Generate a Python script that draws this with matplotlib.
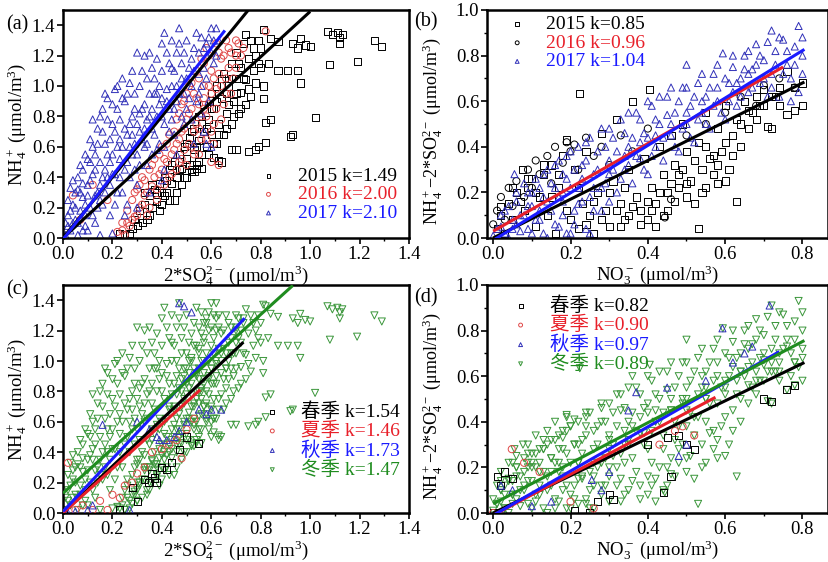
import numpy as np
import matplotlib
matplotlib.use("Agg")
from matplotlib import pyplot as plt
from matplotlib.ticker import MultipleLocator, FormatStrFormatter

plt.rcParams['font.family'] = ['Liberation Serif', 'Noto Sans CJK SC']
plt.rcParams['mathtext.fontset'] = 'custom'
plt.rcParams['mathtext.rm'] = 'Liberation Serif'
plt.rcParams['mathtext.it'] = 'Liberation Serif:italic'

# ---------------- panel (a): NH4+ vs 2*SO4 by year ----------------
a2015 = [(0.25, 0.02), (0.28, 0.06), (0.30, 0.08), (0.31, 0.18), (0.33, 0.22), (0.34, 0.12), (0.35, 0.28),
         (0.36, 0.20), (0.37, 0.32), (0.38, 0.24), (0.39, 0.36), (0.40, 0.22), (0.40, 0.30), (0.41, 0.40),
         (0.42, 0.30), (0.43, 0.45), (0.44, 0.36), (0.45, 0.25), (0.45, 0.50), (0.46, 0.40), (0.47, 0.55),
         (0.48, 0.35), (0.48, 0.46), (0.49, 0.60), (0.50, 0.40), (0.50, 0.52), (0.51, 0.66), (0.52, 0.45),
         (0.53, 0.58), (0.53, 0.72), (0.54, 0.48), (0.55, 0.64), (0.55, 0.80), (0.56, 0.55), (0.57, 0.70),
         (0.57, 0.88), (0.58, 0.60), (0.59, 0.78), (0.60, 0.95), (0.60, 0.68), (0.61, 0.85), (0.62, 0.62),
         (0.62, 1.00), (0.63, 0.75), (0.64, 0.92), (0.65, 1.08), (0.65, 0.68), (0.66, 0.82), (0.67, 1.00),
         (0.68, 1.15), (0.68, 0.75), (0.69, 0.90), (0.70, 1.05), (0.70, 1.22), (0.71, 0.82), (0.72, 0.96),
         (0.72, 1.12), (0.73, 1.28), (0.74, 0.88), (0.74, 1.04), (0.75, 1.18), (0.76, 0.93), (0.76, 1.30),
         (0.77, 1.10), (0.78, 1.02), (0.78, 1.20), (0.80, 1.12), (0.80, 1.25), (0.74, 1.34), (0.79, 1.30),
         (0.81, 1.37), (0.84, 1.31), (0.87, 1.29), (0.83, 1.15), (0.81, 1.00), (0.81, 0.92), (0.87, 1.10),
         (0.91, 1.10), (0.95, 1.10), (0.96, 1.02), (0.93, 1.28), (0.95, 1.25), (0.96, 1.31), (0.98, 1.27),
         (1.00, 1.26), (1.07, 1.36), (1.09, 1.34), (1.11, 1.35), (1.13, 1.34), (1.12, 1.32), (1.12, 1.28),
         (1.08, 1.14), (1.19, 1.16), (1.26, 1.30), (1.29, 1.26), (1.02, 0.79), (0.92, 0.67), (0.93, 0.68),
         (0.82, 0.76), (0.84, 0.78), (0.82, 0.63), (0.79, 0.60), (0.78, 0.58), (0.75, 0.57), (0.70, 0.58),
         (0.68, 0.58), (0.63, 0.51), (0.64, 0.50), (0.61, 0.53), (0.56, 0.46), (0.54, 0.46), (0.53, 0.44),
         (0.52, 0.44), (0.30, 0.08), (0.23, 0.03),
         (0.27, 0.03), (0.29, 0.12), (0.32, 0.10), (0.33, 0.30), (0.35, 0.15), (0.36, 0.35), (0.38, 0.30),
         (0.39, 0.18), (0.41, 0.28), (0.42, 0.38), (0.43, 0.25), (0.44, 0.48), (0.46, 0.30), (0.47, 0.45),
         (0.49, 0.40), (0.50, 0.62), (0.51, 0.48), (0.52, 0.70), (0.54, 0.60), (0.55, 0.50), (0.56, 0.75),
         (0.58, 0.72), (0.59, 0.55), (0.60, 0.85), (0.61, 0.62), (0.62, 0.90), (0.63, 0.68), (0.64, 1.05),
         (0.66, 0.95), (0.66, 0.72), (0.67, 0.88), (0.68, 1.05), (0.69, 0.80), (0.70, 0.95), (0.71, 1.15),
         (0.72, 0.85), (0.73, 1.05), (0.75, 0.98), (0.77, 1.25), (0.79, 1.15)]
a2016 = [(0.04, 0.28), (0.07, 0.12), (0.12, 0.35), (0.18, 0.25), (0.22, 0.04), (0.24, 0.10), (0.25, 0.02),
         (0.26, 0.18), (0.27, 0.08), (0.28, 0.25), (0.29, 0.14), (0.30, 0.32), (0.31, 0.20), (0.32, 0.40),
         (0.33, 0.28), (0.34, 0.15), (0.35, 0.45), (0.36, 0.34), (0.37, 0.52), (0.38, 0.25), (0.39, 0.42),
         (0.40, 0.60), (0.41, 0.35), (0.42, 0.50), (0.43, 0.68), (0.44, 0.42), (0.45, 0.58), (0.46, 0.78),
         (0.46, 0.45), (0.47, 0.65), (0.48, 0.88), (0.48, 0.52), (0.49, 0.72), (0.50, 0.95), (0.50, 0.48),
         (0.51, 0.82), (0.52, 1.02), (0.52, 0.60), (0.53, 0.70), (0.54, 0.92), (0.54, 1.10), (0.55, 0.55),
         (0.56, 0.80), (0.56, 1.18), (0.57, 1.00), (0.58, 0.65), (0.58, 1.25), (0.59, 0.88), (0.60, 1.10),
         (0.60, 0.50), (0.61, 0.75), (0.62, 1.28), (0.62, 0.98), (0.63, 0.48), (0.64, 1.18), (0.65, 0.88),
         (0.66, 1.30), (0.66, 1.05), (0.68, 1.22), (0.68, 0.95), (0.70, 1.30), (0.70, 1.12), (0.72, 1.20),
         (0.82, 1.36), (0.55, 0.72), (0.57, 0.85), (0.59, 1.00), (0.63, 1.08), (0.65, 1.20), (0.67, 1.12),
         (0.24, 0.05), (0.26, 0.10), (0.28, 0.12), (0.29, 0.30), (0.30, 0.15), (0.31, 0.35), (0.32, 0.22),
         (0.33, 0.38), (0.34, 0.30), (0.35, 0.20), (0.36, 0.48), (0.37, 0.40), (0.38, 0.32), (0.39, 0.55),
         (0.40, 0.45), (0.41, 0.52), (0.42, 0.62), (0.43, 0.40), (0.44, 0.55), (0.45, 0.70), (0.46, 0.62),
         (0.47, 0.50), (0.47, 0.82), (0.48, 0.70), (0.49, 0.58), (0.49, 0.90), (0.50, 0.78), (0.51, 0.62),
         (0.51, 1.00), (0.52, 0.85), (0.53, 0.55), (0.53, 0.95), (0.54, 0.75), (0.55, 0.88), (0.55, 1.05),
         (0.56, 0.65), (0.57, 0.92), (0.57, 1.15), (0.58, 0.80), (0.59, 1.20), (0.60, 0.70), (0.60, 0.95),
         (0.61, 1.05), (0.61, 0.62), (0.62, 0.85), (0.63, 1.22), (0.64, 0.78), (0.64, 1.00), (0.66, 0.95),
         (0.67, 1.25), (0.69, 1.05), (0.70, 1.20), (0.71, 1.28), (0.73, 1.25)]
a2017 = [(0.00, 0.00), (0.01, 0.02), (0.02, 0.08), (0.02, 0.15), (0.03, 0.33), (0.03, 0.05), (0.04, 0.22),
         (0.05, 0.12), (0.05, 0.30), (0.06, 0.40), (0.06, 0.02), (0.07, 0.18), (0.08, 0.45), (0.08, 0.27),
         (0.09, 0.08), (0.10, 0.35), (0.10, 0.52), (0.11, 0.20), (0.12, 0.60), (0.12, 0.42), (0.13, 0.10),
         (0.14, 0.30), (0.14, 0.72), (0.15, 0.50), (0.16, 0.85), (0.16, 0.22), (0.17, 0.62), (0.18, 0.40),
         (0.18, 0.92), (0.19, 0.15), (0.20, 0.75), (0.20, 0.55), (0.21, 0.98), (0.22, 0.30), (0.22, 0.85),
         (0.23, 0.65), (0.24, 1.05), (0.25, 0.45), (0.25, 0.90), (0.26, 0.22), (0.27, 0.75), (0.27, 1.02),
         (0.28, 0.55), (0.29, 0.95), (0.30, 1.22), (0.30, 0.35), (0.31, 0.82), (0.32, 0.65), (0.32, 1.10),
         (0.33, 1.20), (0.34, 0.48), (0.35, 0.95), (0.35, 1.22), (0.36, 0.72), (0.37, 1.05), (0.38, 0.58),
         (0.38, 1.18), (0.39, 0.88), (0.40, 1.28), (0.41, 0.45), (0.41, 1.35), (0.42, 0.98), (0.43, 0.70),
         (0.43, 1.15), (0.44, 1.30), (0.45, 0.85), (0.46, 0.55), (0.46, 1.22), (0.47, 1.38), (0.48, 1.05),
         (0.49, 0.75), (0.50, 1.30), (0.51, 0.92), (0.52, 1.18), (0.53, 0.62), (0.54, 1.35), (0.55, 1.08),
         (0.56, 0.82), (0.57, 1.25), (0.58, 0.62), (0.59, 1.32), (0.60, 0.60), (0.60, 1.38), (0.61, 1.15),
         (0.62, 1.38), (0.63, 1.30), (0.04, 0.10), (0.07, 0.30), (0.09, 0.22), (0.11, 0.38), (0.13, 0.28),
         (0.15, 0.35), (0.17, 0.45), (0.19, 0.50), (0.21, 0.42), (0.23, 0.52), (0.24, 0.60), (0.26, 0.68),
         (0.28, 0.80), (0.29, 0.62), (0.31, 0.70), (0.33, 0.88), (0.34, 0.78), (0.36, 0.85), (0.37, 0.95),
         (0.39, 1.00), (0.40, 0.80), (0.42, 0.90), (0.44, 1.00), (0.45, 1.10), (0.47, 0.95), (0.48, 1.15),
         (0.50, 1.05), (0.52, 1.00), (0.53, 1.10), (0.55, 1.22), (0.57, 1.12), (0.58, 1.28), (0.10, 0.05),
         (0.15, 0.02), (0.20, 0.03), (0.25, 0.15), (0.30, 0.20), (0.35, 0.30), (0.40, 0.38),
         (0.01, 0.10), (0.02, 0.25), (0.03, 0.18), (0.04, 0.38), (0.05, 0.20), (0.06, 0.10), (0.06, 0.32),
         (0.07, 0.48), (0.08, 0.05), (0.08, 0.36), (0.09, 0.55), (0.09, 0.15), (0.10, 0.28), (0.11, 0.50),
         (0.11, 0.65), (0.12, 0.15), (0.12, 0.78), (0.13, 0.45), (0.13, 0.55), (0.14, 0.20), (0.14, 0.62),
         (0.15, 0.80), (0.15, 0.25), (0.16, 0.40), (0.16, 0.70), (0.17, 0.30), (0.17, 0.95), (0.18, 0.55),
         (0.18, 0.78), (0.19, 0.35), (0.19, 0.65), (0.20, 0.88), (0.20, 0.42), (0.21, 0.22), (0.21, 0.70),
         (0.22, 0.60), (0.22, 1.00), (0.23, 0.40), (0.23, 0.78), (0.24, 0.92), (0.24, 0.30), (0.25, 0.72),
         (0.26, 0.50), (0.26, 0.95), (0.27, 0.60), (0.27, 0.40), (0.28, 1.10), (0.28, 0.68), (0.29, 0.45),
         (0.29, 0.85), (0.30, 0.75), (0.30, 0.55), (0.31, 1.00), (0.31, 0.48), (0.32, 0.85), (0.33, 0.60),
         (0.33, 0.72), (0.34, 1.05), (0.34, 0.62), (0.35, 0.80), (0.36, 1.12), (0.36, 0.55), (0.37, 0.68),
         (0.38, 0.80), (0.38, 0.95), (0.39, 0.62), (0.40, 1.10), (0.40, 0.92), (0.41, 0.75), (0.41, 0.60),
         (0.42, 1.22), (0.43, 0.85), (0.44, 0.78), (0.44, 1.12), (0.45, 0.68), (0.46, 1.00), (0.46, 0.90),
         (0.47, 1.28), (0.48, 0.80), (0.49, 1.22), (0.49, 0.95), (0.50, 0.85), (0.51, 1.12), (0.52, 0.78),
         (0.53, 1.25), (0.54, 0.90), (0.55, 0.95), (0.56, 1.32), (0.56, 1.00), (0.57, 0.70), (0.58, 1.05),
         (0.59, 0.90), (0.60, 1.22), (0.61, 1.30), (0.62, 1.20)]
a_labels = ['2015 k=1.49', '2016 k=2.00', '2017 k=2.10']
a_slope = [1.49, 2.00, 2.10]
a_icept = [0.0, 0.0, -0.01]
a_xend = [1.0, 0.75, 0.655]

# ---------------- panel (b): NH4+ - 2*SO4 vs NO3 by year ----------------
b2015 = [(0.01, 0.04), (0.02, 0.10), (0.03, 0.02), (0.04, 0.15), (0.05, 0.08), (0.06, 0.20), (0.077, 0.30),
         (0.08, 0.12), (0.09, 0.22), (0.10, 0.26), (0.11, 0.05), (0.12, 0.18), (0.13, 0.28), (0.14, 0.10),
         (0.15, 0.32), (0.16, 0.02), (0.17, 0.22), (0.18, 0.36), (0.19, 0.43), (0.20, 0.08), (0.21, 0.30),
         (0.22, 0.04), (0.224, 0.635), (0.23, 0.15), (0.24, 0.38), (0.25, 0.10), (0.26, 0.02), (0.27, 0.20),
         (0.28, 0.46), (0.29, 0.12), (0.30, 0.05), (0.31, 0.25), (0.32, 0.52), (0.33, 0.15), (0.34, 0.08),
         (0.35, 0.30), (0.36, 0.60), (0.37, 0.18), (0.38, 0.12), (0.39, 0.35), (0.405, 0.65), (0.41, 0.22),
         (0.42, 0.15), (0.43, 0.40), (0.44, 0.28), (0.45, 0.20), (0.46, 0.45), (0.47, 0.32), (0.48, 0.22),
         (0.49, 0.50), (0.50, 0.38), (0.51, 0.25), (0.52, 0.15), (0.53, 0.04), (0.53, 0.42), (0.54, 0.30),
         (0.55, 0.55), (0.56, 0.35), (0.57, 0.28), (0.58, 0.48), (0.59, 0.38), (0.60, 0.58), (0.61, 0.30),
         (0.62, 0.45), (0.63, 0.16), (0.63, 0.52), (0.64, 0.40), (0.65, 0.60), (0.66, 0.48), (0.67, 0.55),
         (0.68, 0.62), (0.69, 0.58), (0.70, 0.65), (0.71, 0.49), (0.72, 0.48), (0.73, 0.62), (0.74, 0.66),
         (0.76, 0.54), (0.76, 0.73), (0.78, 0.56), (0.80, 0.68), (0.35, 0.10), (0.40, 0.08), (0.45, 0.12),
         (0.50, 0.18), (0.55, 0.22), (0.60, 0.25), (0.58, 0.32), (0.48, 0.28), (0.42, 0.05), (0.33, 0.05),
         (0.02, 0.14), (0.05, 0.22), (0.07, 0.16), (0.09, 0.26), (0.11, 0.20), (0.13, 0.32), (0.15, 0.18),
         (0.17, 0.28), (0.19, 0.12), (0.22, 0.22), (0.24, 0.06), (0.26, 0.16), (0.28, 0.08), (0.30, 0.20),
         (0.32, 0.12), (0.34, 0.22), (0.36, 0.14), (0.38, 0.06), (0.40, 0.16), (0.41, 0.12), (0.43, 0.20),
         (0.44, 0.10), (0.46, 0.24), (0.47, 0.16), (0.49, 0.30), (0.50, 0.24), (0.52, 0.34), (0.54, 0.20),
         (0.55, 0.40), (0.57, 0.36), (0.58, 0.24), (0.60, 0.42), (0.62, 0.36), (0.64, 0.50), (0.66, 0.56),
         (0.68, 0.52), (0.70, 0.58), (0.72, 0.62), (0.74, 0.58), (0.78, 0.66), (0.80, 0.58)]
b2016 = [(0.00, 0.06), (0.01, 0.12), (0.02, 0.18), (0.03, 0.08), (0.04, 0.22), (0.05, 0.14), (0.06, 0.25),
         (0.08, 0.18), (0.09, 0.30), (0.10, 0.22), (0.11, 0.34), (0.12, 0.28), (0.14, 0.36), (0.15, 0.24),
         (0.16, 0.40), (0.18, 0.33), (0.19, 0.42), (0.20, 0.38), (0.21, 0.41), (0.22, 0.30), (0.24, 0.44),
         (0.26, 0.36), (0.28, 0.40), (0.30, 0.32), (0.33, 0.45), (0.36, 0.38), (0.40, 0.48), (0.444, 0.09),
         (0.46, 0.17), (0.50, 0.45), (0.55, 0.50), (0.60, 0.55), (0.64, 0.62), (0.68, 0.58), (0.70, 0.67),
         (0.74, 0.70), (0.78, 0.66)]
b2017 = [(0.00, 0.01), (0.02, 0.05), (0.03, 0.12), (0.04, 0.00), (0.05, 0.08), (0.055, 0.28), (0.06, 0.16),
         (0.07, 0.03), (0.08, 0.10), (0.09, 0.20), (0.10, 0.02), (0.10, 0.14), (0.11, 0.26), (0.12, 0.08),
         (0.13, 0.18), (0.14, 0.00), (0.14, 0.30), (0.15, 0.12), (0.16, 0.22), (0.17, 0.05), (0.17, 0.34),
         (0.18, 0.16), (0.19, 0.26), (0.20, 0.02), (0.20, 0.38), (0.21, 0.12), (0.22, 0.22), (0.23, 0.32),
         (0.24, 0.04), (0.24, 0.42), (0.25, 0.18), (0.26, 0.28), (0.27, 0.38), (0.28, 0.12), (0.28, 0.48),
         (0.29, 0.24), (0.30, 0.34), (0.31, 0.44), (0.32, 0.20), (0.33, 0.52), (0.34, 0.30), (0.35, 0.40),
         (0.36, 0.24), (0.37, 0.55), (0.38, 0.35), (0.39, 0.46), (0.40, 0.28), (0.41, 0.58), (0.42, 0.40),
         (0.43, 0.50), (0.44, 0.34), (0.45, 0.62), (0.46, 0.45), (0.47, 0.55), (0.48, 0.38), (0.49, 0.66),
         (0.50, 0.76), (0.50, 0.50), (0.51, 0.58), (0.52, 0.42), (0.53, 0.68), (0.54, 0.55), (0.55, 0.62),
         (0.56, 0.48), (0.57, 0.72), (0.58, 0.60), (0.594, 0.81), (0.60, 0.52), (0.61, 0.68), (0.62, 0.75),
         (0.63, 0.58), (0.64, 0.70), (0.65, 0.80), (0.66, 0.64), (0.67, 0.74), (0.68, 0.85), (0.69, 0.68),
         (0.70, 0.78), (0.71, 0.62), (0.72, 0.91), (0.72, 0.72), (0.73, 0.82), (0.74, 0.62), (0.75, 0.87),
         (0.76, 0.76), (0.77, 0.60), (0.78, 0.84), (0.79, 0.93), (0.80, 0.72), (0.80, 0.80), (0.06, 0.06),
         (0.12, 0.12), (0.18, 0.20), (0.22, 0.15), (0.26, 0.22), (0.30, 0.28), (0.34, 0.36), (0.38, 0.42),
         (0.42, 0.45), (0.46, 0.50), (0.50, 0.55), (0.54, 0.60), (0.58, 0.66), (0.62, 0.64), (0.66, 0.72),
         (0.01, 0.04), (0.02, 0.10), (0.03, 0.02), (0.04, 0.14), (0.05, 0.04), (0.06, 0.20), (0.07, 0.10),
         (0.08, 0.24), (0.09, 0.04), (0.09, 0.14), (0.10, 0.20), (0.11, 0.08), (0.12, 0.22), (0.13, 0.02),
         (0.13, 0.28), (0.14, 0.16), (0.15, 0.24), (0.16, 0.06), (0.16, 0.32), (0.17, 0.18), (0.18, 0.10),
         (0.18, 0.28), (0.19, 0.02), (0.19, 0.36), (0.20, 0.22), (0.21, 0.30), (0.21, 0.06), (0.22, 0.40),
         (0.23, 0.16), (0.23, 0.26), (0.24, 0.34), (0.25, 0.02), (0.25, 0.44), (0.26, 0.12), (0.27, 0.30),
         (0.28, 0.22), (0.29, 0.40), (0.30, 0.16), (0.30, 0.48), (0.31, 0.30), (0.32, 0.38), (0.33, 0.26),
         (0.34, 0.46), (0.35, 0.55), (0.35, 0.32), (0.36, 0.44), (0.37, 0.36), (0.38, 0.52), (0.39, 0.30),
         (0.40, 0.44), (0.40, 0.60), (0.41, 0.36), (0.42, 0.52), (0.43, 0.62), (0.44, 0.44), (0.45, 0.54),
         (0.46, 0.66), (0.47, 0.40), (0.48, 0.60), (0.49, 0.48), (0.50, 0.66), (0.51, 0.44), (0.52, 0.62),
         (0.53, 0.52), (0.54, 0.72), (0.55, 0.50), (0.56, 0.66), (0.57, 0.58), (0.58, 0.76), (0.59, 0.55),
         (0.60, 0.70), (0.61, 0.60), (0.62, 0.80), (0.63, 0.68), (0.64, 0.62), (0.65, 0.74), (0.66, 0.82),
         (0.67, 0.66), (0.68, 0.76), (0.69, 0.80), (0.70, 0.70), (0.71, 0.86), (0.72, 0.66), (0.73, 0.76),
         (0.74, 0.88), (0.75, 0.72), (0.76, 0.82), (0.77, 0.70), (0.78, 0.76), (0.79, 0.64), (0.80, 0.88)]
b_labels = ['2015 k=0.85', '2016 k=0.96', '2017 k=1.04']
b_slope = [0.85, 0.96, 1.04]
b_icept = [0.0, 0.03, -0.01]
b_xend = [0.805, 0.75, 0.805]

# ---------------- panel (c): by season ----------------
spring_c = [(0.30, 0.075), (0.33, 0.22), (0.345, 0.20), (0.36, 0.26), (0.37, 0.23), (0.38, 0.20), (0.40, 0.30),
            (0.42, 0.285), (0.44, 0.33), (0.47, 0.42), (0.50, 0.50), (0.55, 0.46), (0.23, 0.02), (0.28, 0.17),
            (0.00, 0.00)]
summer_c = [(0.00, 0.00), (0.02, 0.33), (0.05, 0.02), (0.08, 0.05), (0.12, 0.02), (0.15, 0.08), (0.18, 0.02),
            (0.20, 0.12), (0.23, 0.10), (0.25, 0.18), (0.28, 0.20), (0.30, 0.26), (0.33, 0.30), (0.36, 0.40),
            (0.40, 0.42), (0.43, 0.45), (0.46, 0.48), (0.50, 0.55), (0.53, 0.62), (0.48, 0.36)]
autumn_c = [(0.47, 1.38), (0.52, 1.32), (0.49, 1.36), (0.35, 0.55), (0.38, 0.50), (0.39, 0.48), (0.42, 0.48),
            (0.45, 0.50), (0.47, 0.54), (0.50, 0.60), (0.55, 0.68), (0.58, 0.65), (0.60, 0.68), (0.64, 0.68),
            (0.16, 0.58), (0.02, 0.00), (0.05, 0.01), (0.10, 0.02), (0.12, 0.05), (0.27, 0.02), (0.30, 0.60)]
c_labels = ['春季 k=1.54', '夏季 k=1.46', '秋季 k=1.73', '冬季 k=1.47']
c_slope = [1.54, 1.46, 1.73, 1.47]
c_icept = [0.0, 0.0, 0.01, 0.13]
c_xend = [0.73, 0.555, 0.735, 0.93]

# ---------------- panel (d): by season ----------------
spring_d = [(0.01, 0.16), (0.03, 0.18), (0.05, 0.15), (0.02, 0.12), (0.21, 0.01), (0.25, 0.00), (0.27, 0.05),
            (0.30, 0.08), (0.31, 0.06), (0.44, 0.09), (0.46, 0.16), (0.40, 0.30), (0.45, 0.33), (0.48, 0.34),
            (0.50, 0.30), (0.70, 0.50), (0.72, 0.49), (0.758, 0.54), (0.78, 0.56), (0.52, 0.28), (0.00, 0.00)]
summer_d = [(0.00, 0.00), (0.048, 0.28), (0.08, 0.22), (0.12, 0.18), (0.20, 0.05), (0.26, 0.02), (0.47, 0.36),
            (0.49, 0.38), (0.52, 0.34), (0.43, 0.30)]
autumn_d = [(0.715, 0.91), (0.593, 0.81), (0.67, 0.73), (0.65, 0.70), (0.62, 0.66), (0.55, 0.58), (0.45, 0.55),
            (0.37, 0.53), (0.35, 0.45), (0.30, 0.18), (0.255, 0.145), (0.28, 0.10), (0.15, 0.05), (0.10, 0.03),
            (0.05, 0.10), (0.02, 0.12), (0.50, 0.30), (0.48, 0.25)]
d_labels = ['春季 k=0.82', '夏季 k=0.90', '秋季 k=0.97', '冬季 k=0.89']
d_slope = [0.82, 0.90, 0.97, 0.89]
d_icept = [0.0, -0.01, -0.01, 0.04]
d_xend = [0.805, 0.575, 0.74, 0.805]

# winter samples dominate the season split: same observations as the yearly clouds
winter_c = a2015 + a2016 + a2017
winter_d = b2015 + b2016 + b2017

BLACK = 'black'
RED_M, RED_L = '#e04848', '#e8202a'
BLUE_M, BLUE_L = '#3030b8', '#1a1aff'
GREEN_M, GREEN_L = '#3a963a', '#1f8c1f'

fig = plt.figure(figsize=(8.29, 5.62), dpi=100)
W, H = 829, 562


def make_ax(l, t, r, b):
    return fig.add_axes([l / W, 1 - b / H, (r - l) / W, (b - t) / H])


def style(ax, xmax, ymax, xmin=0.0, yminor=False):
    ax.set_xlim(xmin, xmax)
    ax.set_ylim(0, ymax)
    ax.xaxis.set_major_locator(MultipleLocator(0.2))
    ax.xaxis.set_minor_locator(MultipleLocator(0.1))
    ax.yaxis.set_major_locator(MultipleLocator(0.2))
    if yminor:
        ax.yaxis.set_minor_locator(MultipleLocator(0.1))
    ax.xaxis.set_major_formatter(FormatStrFormatter('%.1f'))
    ax.yaxis.set_major_formatter(FormatStrFormatter('%.1f'))
    ax.tick_params(which='major', direction='out', length=4, width=1.2, labelsize=13.5, pad=1.5)
    ax.tick_params(which='minor', direction='out', length=2.5, width=1.0)
    for s in ax.spines.values():
        s.set_linewidth(1.8)


def scatter(ax, pts, marker, color, label, z=2):
    p = np.array(pts)
    return ax.scatter(p[:, 0], p[:, 1], s=26, marker=marker, facecolors='none',
                      edgecolors=color, linewidths=0.7, label=label, zorder=z)


def fit_lines(ax, slope, icept, xend, colors):
    for k, b0, xe, c in zip(slope, icept, xend, colors):
        xs = np.array([0.0, xe])
        ax.plot(xs, k * xs + b0, color=c, lw=2.2, zorder=5, solid_capstyle='butt')


def legend(ax, handles, labels, colors, loc, anchor):
    leg = ax.legend(handles, labels, loc=loc, bbox_to_anchor=anchor, frameon=False, fontsize=14,
                    handlelength=1.0, handletextpad=1.0, labelspacing=0.05, borderpad=0,
                    borderaxespad=0, markerscale=0.55)
    for t, c in zip(leg.get_texts(), colors):
        t.set_color(c)
    leg.set_zorder(10)


lab_nh4 = r'NH$_4^+$ (μmol/m$^3$)'
lab_so4 = r'2*SO$_4^{2-}$ (μmol/m$^3$)'
lab_ex = r'NH$_4^+$−2*SO$_4^{2-}$ (μmol/m$^3$)'
lab_no3 = r'NO$_3^-$ (μmol/m$^3$)'

# (a)
ax = make_ax(63, 10, 409, 238)
h1 = scatter(ax, a2015, 's', BLACK, a_labels[0])
h2 = scatter(ax, a2016, 'o', RED_M, a_labels[1])
h3 = scatter(ax, a2017, '^', BLUE_M, a_labels[2])
fit_lines(ax, a_slope, a_icept, a_xend, [BLACK, BLACK, BLUE_L])
style(ax, 1.4, 1.5)
ax.set_xlabel(lab_so4, fontsize=13.5, labelpad=1)
ax.set_ylabel(lab_nh4, fontsize=13.5, labelpad=2)
legend(ax, [h1, h2, h3], a_labels, [BLACK, RED_L, BLUE_L], 'lower right', (0.965, 0.07))

# (b)
ax = make_ax(487, 10, 828, 238)
h1 = scatter(ax, b2015, 's', BLACK, b_labels[0])
h2 = scatter(ax, b2016, 'o', BLACK, b_labels[1])
h3 = scatter(ax, b2017, '^', BLUE_M, b_labels[2])
fit_lines(ax, b_slope, b_icept, b_xend, [BLACK, RED_L, BLUE_L])
style(ax, 0.866, 1.0, xmin=-0.016, yminor=True)
ax.set_xlabel(lab_no3, fontsize=13.5, labelpad=1)
ax.set_ylabel(lab_ex, fontsize=13, labelpad=0)
ax.yaxis.set_label_coords(-0.125, 0.47)
legend(ax, [h1, h2, h3], b_labels, [BLACK, RED_L, BLUE_L], 'upper left', (0.06, 0.975))

# (c)
ax = make_ax(63, 285, 409, 513)
hw = scatter(ax, winter_c, 'v', GREEN_M, c_labels[3], z=2)
h1 = scatter(ax, spring_c, 's', BLACK, c_labels[0], z=3)
h2 = scatter(ax, summer_c, 'o', RED_M, c_labels[1], z=3)
h3 = scatter(ax, autumn_c, '^', BLUE_M, c_labels[2], z=3)
fit_lines(ax, c_slope, c_icept, c_xend, [BLACK, RED_L, BLUE_L, GREEN_L])
style(ax, 1.4, 1.5)
ax.set_xlabel(lab_so4, fontsize=13.5, labelpad=1)
ax.set_ylabel(lab_nh4, fontsize=13.5, labelpad=2)
legend(ax, [h1, h2, h3, hw], c_labels, [BLACK, RED_L, BLUE_L, GREEN_L], 'lower right', (0.975, 0.15))

# (d)
ax = make_ax(487, 285, 828, 513)
hw = scatter(ax, winter_d, 'v', GREEN_M, d_labels[3], z=2)
h1 = scatter(ax, spring_d, 's', BLACK, d_labels[0], z=3)
h2 = scatter(ax, summer_d, 'o', RED_M, d_labels[1], z=3)
h3 = scatter(ax, autumn_d, '^', BLUE_M, d_labels[2], z=3)
fit_lines(ax, d_slope, d_icept, d_xend, [BLACK, RED_L, BLUE_L, GREEN_L])
style(ax, 0.866, 1.0, xmin=-0.016, yminor=True)
ax.set_xlabel(lab_no3, fontsize=13.5, labelpad=1)
ax.set_ylabel(lab_ex, fontsize=13, labelpad=0)
ax.yaxis.set_label_coords(-0.125, 0.47)
legend(ax, [h1, h2, h3, hw], d_labels, [BLACK, RED_L, BLUE_L, GREEN_L], 'upper left', (0.07, 0.95))

# panel letters
for txt, x, y in [('(a)', 6, 25), ('(b)', 414, 22), ('(c)', 6, 290), ('(d)', 414, 298)]:
    fig.text(x / W, 1 - y / H, txt, fontsize=14.5, ha='left', va='center')

fig.savefig('out.png', dpi=100)
